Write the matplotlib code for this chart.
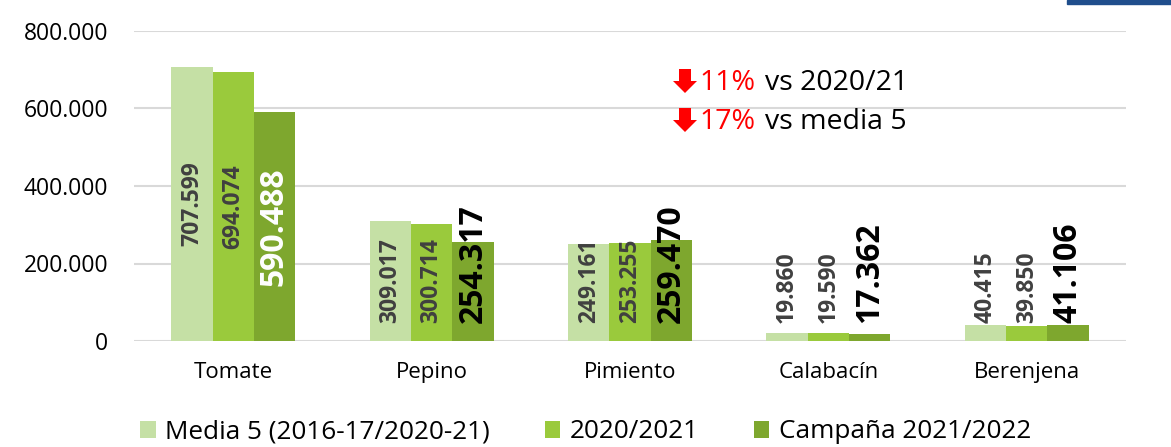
import matplotlib
matplotlib.use("Agg")
import matplotlib.pyplot as plt
import numpy as np
from matplotlib.ticker import FuncFormatter
from matplotlib.patches import Polygon

categories = ["Tomate", "Pepino", "Pimiento", "Calabacín", "Berenjena"]
media5 = [707599, 309017, 249161, 19860, 40415]
y2020 = [694074, 300714, 253255, 19590, 39850]
y2022 = [590488, 254317, 259470, 17362, 41106]
series_names = ["Media 5 (2016-17/2020-21)", "2020/2021", "Campaña 2021/2022"]
yticks = [0, 200000, 400000, 600000, 800000]

colors = ["#C5E0A5", "#9ACA3C", "#7EA72E"]

plt.rcParams['font.family'] = ['Open Sans', 'DejaVu Sans']

W, H = 1171, 447
fig = plt.figure(figsize=(W/100, H/100), dpi=100)
ax = fig.add_axes([134/W, 1-341/H, (1126-134)/W, (341-31)/H])

x = np.arange(len(categories))
w = 0.208
series = [media5, y2020, y2022]
labels = []
for i, (vals, c, name) in enumerate(zip(series, colors, series_names)):
    pos = x + (i - 1) * w
    ax.bar(pos, vals, width=w, color=c, label=name, zorder=3)
    for j, (p, v) in enumerate(zip(pos, vals)):
        lab = f"{v:,}".replace(",", ".")
        if i < 2:
            t = ax.text(p, v/2, lab, rotation=90, ha="center", va="center",
                        fontsize=16.5, fontweight="bold", color="#404040", zorder=4)
        else:
            col = "white" if j == 0 else "black"
            t = ax.text(p, v/2, lab, rotation=90, ha="center", va="center",
                        fontsize=23, fontweight="bold", color=col, zorder=4)
        labels.append((t, v))

ax.set_xlim(-0.5, 4.5)
ax.set_ylim(0, 800000)
ax.set_yticks(yticks)
ax.yaxis.set_major_formatter(FuncFormatter(lambda v, p: f"{int(v):,}".replace(",", ".")))
ax.set_xticks(x)
ax.set_xticklabels(categories)
ax.tick_params(axis="both", length=0, colors="black")
ax.tick_params(axis="y", labelsize=16.5, pad=18.5)
ax.tick_params(axis="x", labelsize=16, pad=15)
ax.grid(axis="y", color="#D9D9D9", linewidth=1.5, zorder=0)
for s in ax.spines.values():
    s.set_visible(False)

# keep labels from going below an offset above the baseline
fig.canvas.draw()
r = fig.canvas.get_renderer()
ax_h_px = ax.get_window_extent().height
per_px = 800000 / ax_h_px
for t, v in labels:
    h = t.get_window_extent(renderer=r).height
    min_center = (18 + h/2) * per_px
    if v/2 < min_center:
        t.set_y(min_center)

# annotation
def down_arrow(xc, yc):
    sw, hw, total, hl = 12, 24, 24, 12
    top = yc - total/2
    pts = [(xc - sw/2, top), (xc + sw/2, top), (xc + sw/2, top + total - hl),
           (xc + hw/2, top + total - hl), (xc, top + total),
           (xc - hw/2, top + total - hl), (xc - sw/2, top + total - hl)]
    pts = [(px/W, 1 - py/H) for px, py in pts]
    fig.patches.append(Polygon(pts, closed=True, transform=fig.transFigure,
                               color="red", lw=0))

rows = [(83, "11%", "vs 2020/21"), (122, "17%", "vs media 5")]
for yy, pct, rest in rows:
    down_arrow(685, yy - 2)
    fig.text(699/W, 1-yy/H, pct, color="red", fontsize=20.5, va="center", ha="left")
    fig.text(765/W, 1-yy/H, rest, color="black", fontsize=20.5, va="center", ha="left")

# top-right blue bar
fig.patches.append(plt.Rectangle((1067/W, 1-4/H), 104/W, 4/H,
                                 transform=fig.transFigure, color="#1F4E8C"))

leg = fig.legend(loc="center", bbox_to_anchor=(0.5, 1-432/H), ncol=3, frameon=False,
                 fontsize=18.8, handlelength=0.6, handleheight=0.6, handletextpad=0.36,
                 columnspacing=2.1)

fig.savefig("out.png", dpi=100)
